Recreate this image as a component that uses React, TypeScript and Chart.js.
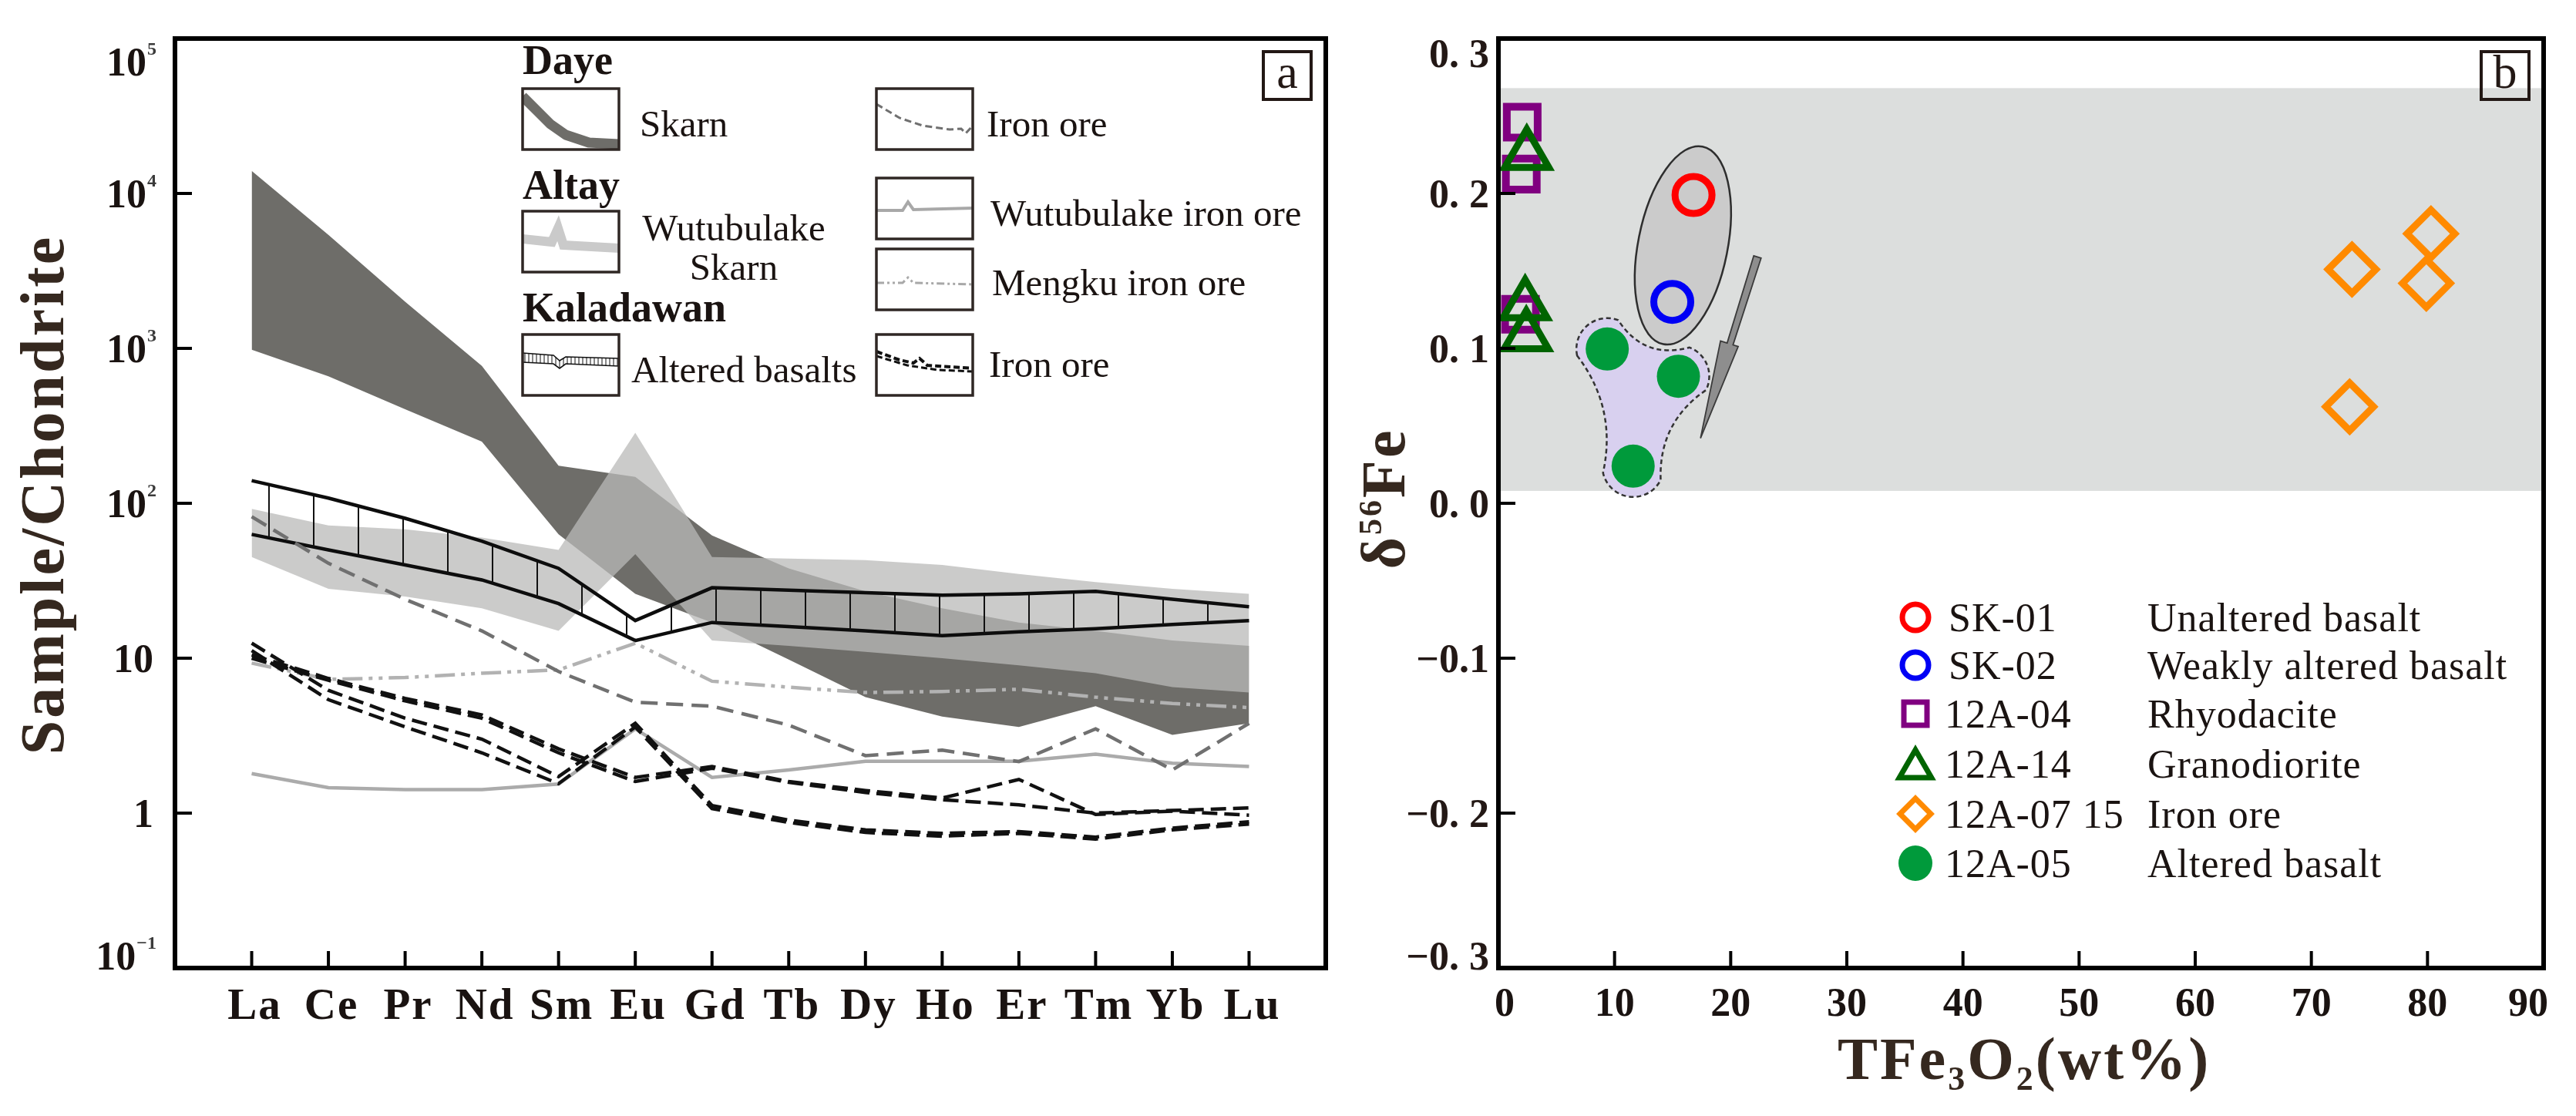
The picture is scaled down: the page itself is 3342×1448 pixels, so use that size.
import React, { useEffect, useRef } from 'react';
import { Chart, registerables } from 'chart.js';

Chart.register(...registerables);

const SERIF = "'Liberation Serif','Times New Roman',Times,serif";
const INK = '#1a1311';
const TITLE_INK = '#35281f';

// ---------------- Panel a : REE patterns ----------------
const REE = ['La', 'Ce', 'Pr', 'Nd', 'Sm', 'Eu', 'Gd', 'Tb', 'Dy', 'Ho', 'Er', 'Tm', 'Yb', 'Lu'];
const dayeSkarnUpper = [14000, 5400, 2000, 770, 175, 148, 62, 38, 27, 21, 17, 15, 13, 12];
const dayeSkarnLower = [980, 660, 405, 250, 63, 26, 17, 9.8, 5.6, 4.2, 3.6, 4.9, 3.2, 3.8];
const wutuSkarnUpper = [92, 72, 68, 60, 50, 285, 45, 44, 43, 40, 35, 31, 28, 26];
const wutuSkarnLower = [45, 28, 25, 21, 15, 47, 13, 12, 11, 10, 9, 8, 6.5, 6];
const basaltUpper = [140, 108, 80, 57, 38, 17.5, 28.5, 27.5, 26.5, 25.5, 26, 27, 24, 21.5];
const basaltLower = [63, 50, 40, 32, 22.5, 13, 17, 16, 15, 14, 14.8, 15.5, 16.5, 17.5];
const dayeIronOre = [82, 41, 24, 15, 8.2, 5.2, 4.9, 3.7, 2.35, 2.55, 2.15, 3.5, 1.9, 3.8];
const mengkuIronOre = [9.3, 7.3, 7.5, 8.0, 8.4, 12.5, 7.1, 6.5, 6.0, 6.1, 6.3, 5.6, 5.1, 4.8];
const wutuIronOre = [1.8, 1.46, 1.42, 1.42, 1.54, 3.5, 1.7, 1.9, 2.16, 2.16, 2.16, 2.4, 2.1, 2.0];
const kalIronOre1 = [10.5, 7.4, 5.5, 4.3, 2.6, 1.7, 2.0, 1.6, 1.4, 1.25, 1.65, 0.98, 1.03, 0.97];
const kalIronOre2 = [10.0, 7.2, 5.3, 4.1, 2.45, 1.6, 1.95, 1.58, 1.36, 1.22, 1.13, 1.0, 1.04, 1.08];
const kalIronOre3 = [12.5, 6.2, 4.1, 3.0, 1.72, 3.8, 1.12, 0.9, 0.78, 0.74, 0.76, 0.7, 0.8, 0.88];
const kalIronOre4 = [11.2, 5.4, 3.6, 2.45, 1.55, 3.6, 1.07, 0.87, 0.75, 0.71, 0.74, 0.68, 0.78, 0.85];
const leftYTicks = [1e5, 1e4, 1e3, 100, 10, 1, 0.1];
const leftYTickBase = ['10', '10', '10', '10', '10', '1', '10'];
const leftYTickExp = ['5', '4', '3', '2', '', '', '\u22121'];

// ---------------- Panel b : d56Fe vs TFe ----------------
const tfeTicks = [0, 10, 20, 30, 40, 50, 60, 70, 80, 90];
const d56Ticks = [0.3, 0.2, 0.1, 0, -0.1, -0.2, -0.3];
const d56TickLabels = ['0. 3', '0. 2', '0. 1', '0. 0', '\u22120.1', '\u22120. 2', '\u22120. 3'];
const sk01TFe = [16.8];
const sk01D56 = [0.199];
const sk02TFe = [14.97];
const sk02D56 = [0.13];
const rhyoTFe = [2.05, 1.97, 1.9];
const rhyoD56 = [0.246, 0.2125, 0.122];
const granoTFe = [2.44, 2.3, 2.4];
const granoD56 = [0.225, 0.128, 0.108];
const ironTFe = [73.5, 80.3, 79.9, 73.3];
const ironD56 = [0.151, 0.174, 0.142, 0.0623];
const altTFe = [9.37, 15.5, 11.6];
const altD56 = [0.0996, 0.082, 0.024];
const legendCodes = ['SK-01', 'SK-02', '12A-04', '12A-14', '12A-07 15', '12A-05'];
const legendNames = ['Unaltered basalt', 'Weakly altered basalt', 'Rhyodacite', 'Granodiorite', 'Iron ore', 'Altered basalt'];
// annotation geometry (data units)
const bandD56 = [0.008, 0.268];
const arrowFrom = [22.3, 0.159];
const arrowTo = [17.4, 0.042];

const RED = '#ff0000';
const BLUE = '#0000f5';
const PURPLE = '#800080';
const DKGREEN = '#006400';
const ORANGE = '#ff8a00';
const GREEN = '#009a3b';

const pts = (ys: number[]) => ys.map((y, i) => ({ x: i + 1, y }));
const zip = (xs: number[], ys: number[]) => xs.map((x, i) => ({ x, y: ys[i] }));

function txt(ctx: CanvasRenderingContext2D, s: string, x: number, y: number, font: string, align: CanvasTextAlign = 'left', color = INK, spacing = '0px') {
  ctx.save();
  ctx.font = font;
  ctx.fillStyle = color;
  ctx.textAlign = align;
  ctx.textBaseline = 'alphabetic';
  (ctx as any).letterSpacing = spacing;
  ctx.fillText(s, x, y);
  ctx.restore();
}

function poly(ctx: CanvasRenderingContext2D, p: number[][], ox: number, oy: number) {
  ctx.beginPath();
  p.forEach(([x, y], i) => (i ? ctx.lineTo(ox + x, oy + y) : ctx.moveTo(ox + x, oy + y)));
}

function interp(p: number[][], x: number) {
  for (let i = 0; i < p.length - 1; i++) {
    if (x >= p[i][0] && x <= p[i + 1][0]) {
      const t = (x - p[i][0]) / (p[i + 1][0] - p[i][0] || 1);
      return p[i][1] + t * (p[i + 1][1] - p[i][1]);
    }
  }
  return p[p.length - 1][1];
}

function drawLeftLegend(ctx: CanvasRenderingContext2D) {
  const W = 125, H = 79;
  const head = `bold 54px ${SERIF}`;
  const lab = `49px ${SERIF}`;
  const box = (x: number, y: number) => {
    ctx.save();
    ctx.strokeStyle = '#2f2724';
    ctx.lineWidth = 3.5;
    ctx.strokeRect(x, y, W, H);
    ctx.restore();
  };
  const clip = (x: number, y: number, f: () => void) => {
    ctx.save();
    ctx.beginPath();
    ctx.rect(x, y, W, H);
    ctx.clip();
    f();
    ctx.restore();
  };
  txt(ctx, 'Daye', 678, 96, head);
  txt(ctx, 'Altay', 678, 258, head);
  txt(ctx, 'Kaladawan', 678, 417, head);

  // Daye skarn
  clip(678, 115, () => {
    ctx.strokeStyle = '#6e6d69';
    ctx.lineWidth = 13;
    ctx.lineJoin = 'round';
    poly(ctx, [[0, 10], [20, 30], [36, 46], [56, 60], [86, 70], [126, 72]], 678, 115);
    ctx.stroke();
  });
  box(678, 115);
  txt(ctx, 'Skarn', 830, 177, lab);

  // Daye iron ore
  clip(1137, 115, () => {
    ctx.strokeStyle = '#707070';
    ctx.lineWidth = 3;
    ctx.setLineDash([9, 5]);
    poly(ctx, [[0, 20], [30, 38], [60, 48], [95, 53], [110, 52], [116, 58], [125, 48]], 1137, 115);
    ctx.stroke();
  });
  box(1137, 115);
  txt(ctx, 'Iron ore', 1280, 177, lab);

  // Wutubulake skarn
  clip(678, 274, () => {
    ctx.strokeStyle = '#cacaca';
    ctx.lineWidth = 12;
    poly(ctx, [[0, 36], [38, 40], [46, 22], [53, 44], [126, 48]], 678, 274);
    ctx.stroke();
  });
  box(678, 274);
  txt(ctx, 'Wutubulake', 952, 312, lab, 'center');
  txt(ctx, 'Skarn', 952, 363, lab, 'center');

  // Wutubulake iron ore
  clip(1137, 231, () => {
    ctx.strokeStyle = '#a8a8a8';
    ctx.lineWidth = 4;
    poly(ctx, [[0, 42], [34, 42], [41, 31], [48, 41], [126, 39]], 1137, 231);
    ctx.stroke();
  });
  box(1137, 231);
  txt(ctx, 'Wutubulake iron ore', 1285, 293, lab);

  // Mengku
  clip(1137, 323, () => {
    ctx.strokeStyle = '#a8a8a8';
    ctx.lineWidth = 3;
    ctx.setLineDash([10, 4, 3, 4, 3, 4]);
    poly(ctx, [[0, 44], [34, 44], [41, 37], [48, 44], [126, 46]], 1137, 323);
    ctx.stroke();
  });
  box(1137, 323);
  txt(ctx, 'Mengku iron ore', 1287, 383, lab);

  // Altered basalts
  const up = [[0, 24], [40, 27], [48, 34], [56, 29], [126, 31]];
  const lo = [[0, 36], [40, 38], [48, 44], [56, 38], [126, 41]];
  clip(678, 434, () => {
    ctx.strokeStyle = '#111';
    ctx.lineWidth = 1.6;
    poly(ctx, up, 678, 434);
    ctx.stroke();
    poly(ctx, lo, 678, 434);
    ctx.stroke();
    ctx.lineWidth = 1;
    for (let x = 3; x < W; x += 5) {
      ctx.beginPath();
      ctx.moveTo(678 + x, 434 + interp(up, x));
      ctx.lineTo(678 + x, 434 + interp(lo, x));
      ctx.stroke();
    }
  });
  box(678, 434);
  txt(ctx, 'Altered basalts', 819, 496, lab);

  // Kaladawan iron ore
  clip(1137, 434, () => {
    ctx.strokeStyle = '#111';
    ctx.setLineDash([8, 4]);
    ctx.lineWidth = 4;
    poly(ctx, [[0, 22], [30, 33], [48, 37], [56, 31], [66, 40], [126, 44]], 1137, 434);
    ctx.stroke();
    ctx.lineWidth = 3;
    poly(ctx, [[0, 28], [40, 40], [80, 46], [126, 48]], 1137, 434);
    ctx.stroke();
  });
  box(1137, 434);
  txt(ctx, 'Iron ore', 1283, 489, lab);
}

function panelTag(ctx: CanvasRenderingContext2D, s: string, x: number, y: number) {
  ctx.save();
  ctx.strokeStyle = '#231815';
  ctx.lineWidth = 4;
  ctx.strokeRect(x, y, 62, 62);
  ctx.restore();
  txt(ctx, s, x + 31, y + 47, `62px ${SERIF}`, 'center', '#231815');
}

const leftDecor = {
  id: 'leftDecor',
  afterDraw(chart: any) {
    const { ctx, chartArea: a, scales } = chart;
    const xs = scales.x;
    const ys = scales.y;
    ctx.save();
    ctx.strokeStyle = '#000';
    ctx.lineWidth = 6;
    ctx.strokeRect(a.left, a.top, a.right - a.left, a.bottom - a.top);
    ctx.lineWidth = 4;
    leftYTicks.forEach((v) => {
      const y = ys.getPixelForValue(v);
      ctx.beginPath();
      ctx.moveTo(a.left, y);
      ctx.lineTo(a.left + 22, y);
      ctx.stroke();
    });
    REE.forEach((_, i) => {
      const x = xs.getPixelForValue(i + 1);
      ctx.beginPath();
      ctx.moveTo(x, a.bottom);
      ctx.lineTo(x, a.bottom - 22);
      ctx.stroke();
    });
    ctx.restore();

    // y tick labels
    const R = a.left - 24;
    leftYTicks.forEach((v, i) => {
      let cy = ys.getPixelForValue(v);
      cy = Math.max(cy, a.top + 30);
      cy = Math.min(cy, a.bottom - 16);
      const exp = leftYTickExp[i];
      ctx.save();
      ctx.font = `bold 24px ${SERIF}`;
      const ew = exp ? ctx.measureText(exp).width : 0;
      ctx.restore();
      if (exp) {
        txt(ctx, exp, R - ew, cy - 9, `bold 24px ${SERIF}`, 'left', '#3a3a3a');
        txt(ctx, leftYTickBase[i], R - ew - 1, cy + 17.5, `bold 52px ${SERIF}`, 'right');
      } else {
        txt(ctx, leftYTickBase[i], R - 4, cy + 17.5, `bold 52px ${SERIF}`, 'right');
      }
    });
    // x tick labels
    REE.forEach((s, i) => {
      txt(ctx, s, xs.getPixelForValue(i + 1) + 4, 1322, `bold 57px ${SERIF}`, 'center', INK, '2px');
    });
    // y title
    ctx.save();
    ctx.translate(82, 642);
    ctx.rotate(-Math.PI / 2);
    txt(ctx, 'Sample/Chondrite', 0, 0, `bold 80px ${SERIF}`, 'center', TITLE_INK, '3px');
    ctx.restore();

    drawLeftLegend(ctx);
    panelTag(ctx, 'a', a.right - 81, 67);
  },
};

function drawMarker(ctx: CanvasRenderingContext2D, kind: string, x: number, y: number, color: string, scale = 1) {
  ctx.save();
  ctx.strokeStyle = color;
  ctx.fillStyle = color;
  ctx.lineWidth = 7 * scale;
  ctx.lineJoin = 'miter';
  ctx.beginPath();
  if (kind === 'circle') {
    ctx.arc(x, y, 17 * scale, 0, Math.PI * 2);
    ctx.stroke();
  } else if (kind === 'rect') {
    const h = 15 * scale;
    ctx.rect(x - h, y - h, 2 * h, 2 * h);
    ctx.stroke();
  } else if (kind === 'triangle') {
    const r = 24 * scale;
    ctx.moveTo(x, y - r);
    ctx.lineTo(x + r * Math.sin((2 * Math.PI) / 3), y - r * Math.cos((2 * Math.PI) / 3));
    ctx.lineTo(x + r * Math.sin((4 * Math.PI) / 3), y - r * Math.cos((4 * Math.PI) / 3));
    ctx.closePath();
    ctx.stroke();
  } else if (kind === 'diamond') {
    const r = 20 * scale;
    ctx.moveTo(x - r, y);
    ctx.lineTo(x, y - r);
    ctx.lineTo(x + r, y);
    ctx.lineTo(x, y + r);
    ctx.closePath();
    ctx.stroke();
  } else if (kind === 'dot') {
    ctx.ellipse(x, y, 22 * scale, 23 * scale, 0, 0, Math.PI * 2);
    ctx.fill();
  }
  ctx.restore();
}

const legendKinds = ['circle', 'circle', 'rect', 'triangle', 'diamond', 'dot'];
const legendColors = [RED, BLUE, PURPLE, DKGREEN, ORANGE, GREEN];

const rightDecor = {
  id: 'rightDecor',
  beforeDatasetsDraw(chart: any) {
    const { ctx, chartArea: a, scales } = chart;
    const xs = scales.x;
    const ys = scales.y;
    ctx.save();
    // reference band
    const yTop = ys.getPixelForValue(bandD56[1]);
    const yBot = ys.getPixelForValue(bandD56[0]);
    ctx.fillStyle = '#dcdedd';
    ctx.fillRect(a.left, yTop, a.right - a.left, yBot - yTop);

    // ellipse around SK-01 / SK-02
    const p1 = { x: xs.getPixelForValue(sk01TFe[0]), y: ys.getPixelForValue(sk01D56[0]) };
    const p2 = { x: xs.getPixelForValue(sk02TFe[0]), y: ys.getPixelForValue(sk02D56[0]) };
    const cx = (p1.x + p2.x) / 2;
    const cy = (p1.y + p2.y) / 2 - 4;
    const d = Math.hypot(p1.x - p2.x, p1.y - p2.y);
    const ang = Math.atan2(p1.y - p2.y, p1.x - p2.x);
    ctx.beginPath();
    ctx.ellipse(cx, cy, d / 2 + 60, 58, ang, 0, Math.PI * 2);
    ctx.fillStyle = '#cbcbcb';
    ctx.fill();
    ctx.strokeStyle = '#2e2e2e';
    ctx.lineWidth = 2.5;
    ctx.stroke();

    // blob around altered basalt points
    const g = altTFe.map((x, i) => ({ x: xs.getPixelForValue(x), y: ys.getPixelForValue(altD56[i]) }));
    const gc = { x: g.reduce((s, p) => s + p.x, 0) / g.length, y: g.reduce((s, p) => s + p.y, 0) / g.length };
    g.sort((p, q) => Math.atan2(p.y - gc.y, p.x - gc.x) - Math.atan2(q.y - gc.y, q.x - gc.x));
    const n = g.length;
    const Rb = 40;
    const normals = g.map((p, i) => {
      const q = g[(i + 1) % n];
      const dx = q.x - p.x;
      const dy = q.y - p.y;
      const len = Math.hypot(dx, dy);
      let nx = dy / len;
      let ny = -dx / len;
      const mx = (p.x + q.x) / 2 - gc.x;
      const my = (p.y + q.y) / 2 - gc.y;
      if (nx * mx + ny * my < 0) {
        nx = -nx;
        ny = -ny;
      }
      return { x: nx, y: ny };
    });
    ctx.beginPath();
    for (let i = 0; i < n; i++) {
      const p = g[i];
      const q = g[(i + 1) % n];
      const nPrev = normals[(i - 1 + n) % n];
      const nCur = normals[i];
      ctx.arc(p.x, p.y, Rb, Math.atan2(nPrev.y, nPrev.x), Math.atan2(nCur.y, nCur.x), false);
      const mx = (p.x + q.x) / 2 + nCur.x * Rb * 0.1;
      const my = (p.y + q.y) / 2 + nCur.y * Rb * 0.1;
      ctx.quadraticCurveTo(mx, my, q.x + nCur.x * Rb, q.y + nCur.y * Rb);
    }
    ctx.closePath();
    ctx.fillStyle = '#d8d0ef';
    ctx.fill();
    ctx.setLineDash([6, 4]);
    ctx.strokeStyle = '#333';
    ctx.lineWidth = 2.5;
    ctx.stroke();
    ctx.setLineDash([]);

    // arrow
    const a0 = { x: xs.getPixelForValue(arrowFrom[0]), y: ys.getPixelForValue(arrowFrom[1]) };
    const a1 = { x: xs.getPixelForValue(arrowTo[0]), y: ys.getPixelForValue(arrowTo[1]) };
    const L = Math.hypot(a1.x - a0.x, a1.y - a0.y);
    const ux = (a1.x - a0.x) / L;
    const uy = (a1.y - a0.y) / L;
    const px = -uy;
    const py = ux;
    const hs = { x: a0.x + ux * L * 0.48, y: a0.y + uy * L * 0.48 };
    ctx.beginPath();
    ctx.moveTo(a0.x + px * 5, a0.y + py * 5);
    ctx.lineTo(hs.x + px * 4, hs.y + py * 4);
    ctx.lineTo(hs.x + px * 13, hs.y + py * 13);
    ctx.lineTo(a1.x, a1.y);
    ctx.lineTo(hs.x - px * 11, hs.y - py * 11);
    ctx.lineTo(hs.x - px * 4, hs.y - py * 4);
    ctx.lineTo(a0.x - px * 5, a0.y - py * 5);
    ctx.closePath();
    ctx.fillStyle = '#8e8e8e';
    ctx.fill();
    ctx.strokeStyle = '#3a3a3a';
    ctx.lineWidth = 1.8;
    ctx.stroke();
    ctx.restore();
  },
  afterDraw(chart: any) {
    const { ctx, chartArea: a, scales } = chart;
    const xs = scales.x;
    const ys = scales.y;
    ctx.save();
    ctx.strokeStyle = '#000';
    ctx.lineWidth = 6;
    ctx.strokeRect(a.left, a.top, a.right - a.left, a.bottom - a.top);
    ctx.lineWidth = 4;
    d56Ticks.forEach((v) => {
      const y = ys.getPixelForValue(v);
      ctx.beginPath();
      ctx.moveTo(a.left, y);
      ctx.lineTo(a.left + 22, y);
      ctx.stroke();
    });
    tfeTicks.forEach((v) => {
      const x = xs.getPixelForValue(v);
      ctx.beginPath();
      ctx.moveTo(x, a.bottom);
      ctx.lineTo(x, a.bottom - 22);
      ctx.stroke();
    });
    ctx.restore();

    d56Ticks.forEach((v, i) => {
      let cy = ys.getPixelForValue(v);
      cy = Math.max(cy, a.top + 19);
      cy = Math.min(cy, a.bottom - 16);
      txt(ctx, d56TickLabels[i], a.left - 12, cy + 17.5, `bold 52px ${SERIF}`, 'right', '#231815');
    });
    tfeTicks.forEach((v, i) => {
      let x = xs.getPixelForValue(v);
      if (i === 0) x += 8;
      if (i === tfeTicks.length - 1) x -= 20;
      txt(ctx, String(v), x, 1318, `bold 52px ${SERIF}`, 'center', INK);
    });

    // x title TFe3O2(wt%)
    const parts = [
      { t: 'TFe', f: `bold 78px ${SERIF}`, dy: 0 },
      { t: '3', f: `bold 44px ${SERIF}`, dy: 14 },
      { t: 'O', f: `bold 78px ${SERIF}`, dy: 0 },
      { t: '2', f: `bold 44px ${SERIF}`, dy: 14 },
      { t: '(wt%)', f: `bold 78px ${SERIF}`, dy: 0 },
    ];
    const drawParts = (list: any[], cx: number, by: number) => {
      ctx.save();
      (ctx as any).letterSpacing = '3px';
      const widths = list.map((p) => {
        ctx.font = p.f;
        return ctx.measureText(p.t).width;
      });
      const total = widths.reduce((s, w) => s + w, 0);
      let x = cx - total / 2;
      ctx.fillStyle = TITLE_INK;
      ctx.textBaseline = 'alphabetic';
      ctx.textAlign = 'left';
      list.forEach((p, i) => {
        ctx.font = p.f;
        ctx.fillText(p.t, x, by + p.dy);
        x += widths[i];
      });
      ctx.restore();
    };
    drawParts(parts, (a.left + a.right) / 2 + 4, 1400);

    // y title δ56Fe
    ctx.save();
    ctx.translate(62, 647);
    ctx.rotate(-Math.PI / 2);
    drawParts(
      [
        { t: '\u03b4', f: `bold 80px ${SERIF}`, dy: 0 },
        { t: '56', f: `bold 42px ${SERIF}`, dy: -30 },
        { t: 'Fe', f: `bold 80px ${SERIF}`, dy: 0 },
      ],
      0,
      0
    );
    ctx.restore();

    // legend
    const rows = [801, 863, 926, 991, 1056, 1120];
    rows.forEach((cy, i) => {
      drawMarker(ctx, legendKinds[i], 725, cy + (legendKinds[i] === 'triangle' ? 6 : 0), legendColors[i]);
      txt(ctx, legendCodes[i], i < 2 ? 768 : 763, cy + 18, `52px ${SERIF}`, 'left', INK, '1px');
      txt(ctx, legendNames[i], 1026, cy + 18, `52px ${SERIF}`, 'left', INK, '1px');
    });

    panelTag(ctx, 'b', a.right - 81, 67);
  },
};

function makeHatch(): CanvasPattern | string {
  const c = document.createElement('canvas');
  c.width = 58;
  c.height = 8;
  const g = c.getContext('2d');
  if (!g) return 'rgba(0,0,0,0)';
  g.fillStyle = '#111';
  g.fillRect(0, 0, 2, 8);
  return g.createPattern(c, 'repeat') || 'rgba(0,0,0,0)';
}

export default function App() {
  const leftRef = useRef<HTMLCanvasElement>(null);
  const rightRef = useRef<HTMLCanvasElement>(null);

  useEffect(() => {
    document.body.style.margin = '0';
    const hatch = makeHatch();
    const band = (data: number[], color: any, order: number, fill: any, border = 0, borderColor = 'rgba(0,0,0,0)') => ({
      data: pts(data),
      backgroundColor: color,
      borderColor,
      borderWidth: border,
      fill,
      order,
      pointRadius: 0,
      tension: 0,
    });
    const line = (data: number[], color: string, width: number, dash: number[], order: number) => ({
      data: pts(data),
      borderColor: color,
      borderWidth: width,
      borderDash: dash,
      fill: false,
      order,
      pointRadius: 0,
      tension: 0,
    });

    const left = new Chart(leftRef.current as HTMLCanvasElement, {
      type: 'line',
      data: {
        datasets: [
          band(dayeSkarnUpper, '#6e6d69', 10, '+1'),
          band(dayeSkarnLower, '#6e6d69', 10, false),
          band(wutuSkarnUpper, 'rgba(186,186,184,0.75)', 9, '+1'),
          band(wutuSkarnLower, 'rgba(186,186,184,0.75)', 9, false),
          band(basaltUpper, hatch, 8, '+1', 4.5, '#0d0d0d'),
          band(basaltLower, 'rgba(0,0,0,0)', 8, false, 4.5, '#0d0d0d'),
          line(dayeIronOre, '#707070', 4.5, [22, 11], 6),
          line(mengkuIronOre, '#b2b2b2', 4.5, [26, 8, 5, 8, 5, 8], 6),
          line(wutuIronOre, '#ababab', 4.5, [], 6),
          line(kalIronOre1, '#111', 4.5, [20, 9], 4),
          line(kalIronOre2, '#111', 4.5, [20, 9], 4),
          line(kalIronOre3, '#111', 4.5, [20, 9], 4),
          line(kalIronOre4, '#111', 4.5, [20, 9], 4),
        ] as any,
      },
      options: {
        responsive: false,
        animation: false,
        layout: { padding: { left: 227, top: 50, right: 40, bottom: 192 } },
        scales: {
          x: { type: 'linear', min: 0, max: 15, display: false },
          y: { type: 'logarithmic', min: 0.1, max: 1e5, display: false },
        },
        plugins: { legend: { display: false }, tooltip: { enabled: false } },
      } as any,
      plugins: [leftDecor],
    });

    const scat = (xs: number[], ys: number[], style: string, r: number, color: string, filled: boolean, bw: number, order: number) => ({
      data: zip(xs, ys),
      pointStyle: style,
      pointRadius: r,
      pointBorderWidth: filled ? 0 : bw,
      borderWidth: filled ? 0 : bw,
      pointBorderColor: color,
      borderColor: color,
      pointBackgroundColor: filled ? color : 'rgba(0,0,0,0)',
      backgroundColor: filled ? color : 'rgba(0,0,0,0)',
      order,
    });

    const right = new Chart(rightRef.current as HTMLCanvasElement, {
      type: 'scatter',
      data: {
        datasets: [
          scat(altTFe, altD56, 'circle', 28, GREEN, true, 0, 6),
          scat(rhyoTFe, rhyoD56, 'rect', 28.3, PURPLE, false, 10, 5),
          scat(granoTFe, granoD56, 'triangle', 33, DKGREEN, false, 9, 4),
          scat(sk01TFe, sk01D56, 'circle', 24, RED, false, 9, 3),
          scat(sk02TFe, sk02D56, 'circle', 24, BLUE, false, 9, 3),
          scat(ironTFe, ironD56, 'rectRot', 31, ORANGE, false, 9, 3),
        ] as any,
      },
      options: {
        responsive: false,
        animation: false,
        layout: { padding: { left: 184, top: 50, right: 34, bottom: 192 } },
        scales: {
          x: { type: 'linear', min: 0, max: 90, display: false },
          y: { type: 'linear', min: -0.3, max: 0.3, display: false },
        },
        plugins: { legend: { display: false }, tooltip: { enabled: false } },
      } as any,
      plugins: [rightDecor],
    });

    return () => {
      left.destroy();
      right.destroy();
    };
  }, []);

  return (
    <div style={{ position: 'relative', width: 3342, height: 1448, background: '#fff', overflow: 'hidden' }}>
      <canvas ref={leftRef} width={1760} height={1448} style={{ position: 'absolute', left: 0, top: 0, width: 1760, height: 1448 }} />
      <canvas ref={rightRef} width={1582} height={1448} style={{ position: 'absolute', left: 1760, top: 0, width: 1582, height: 1448 }} />
    </div>
  );
}
